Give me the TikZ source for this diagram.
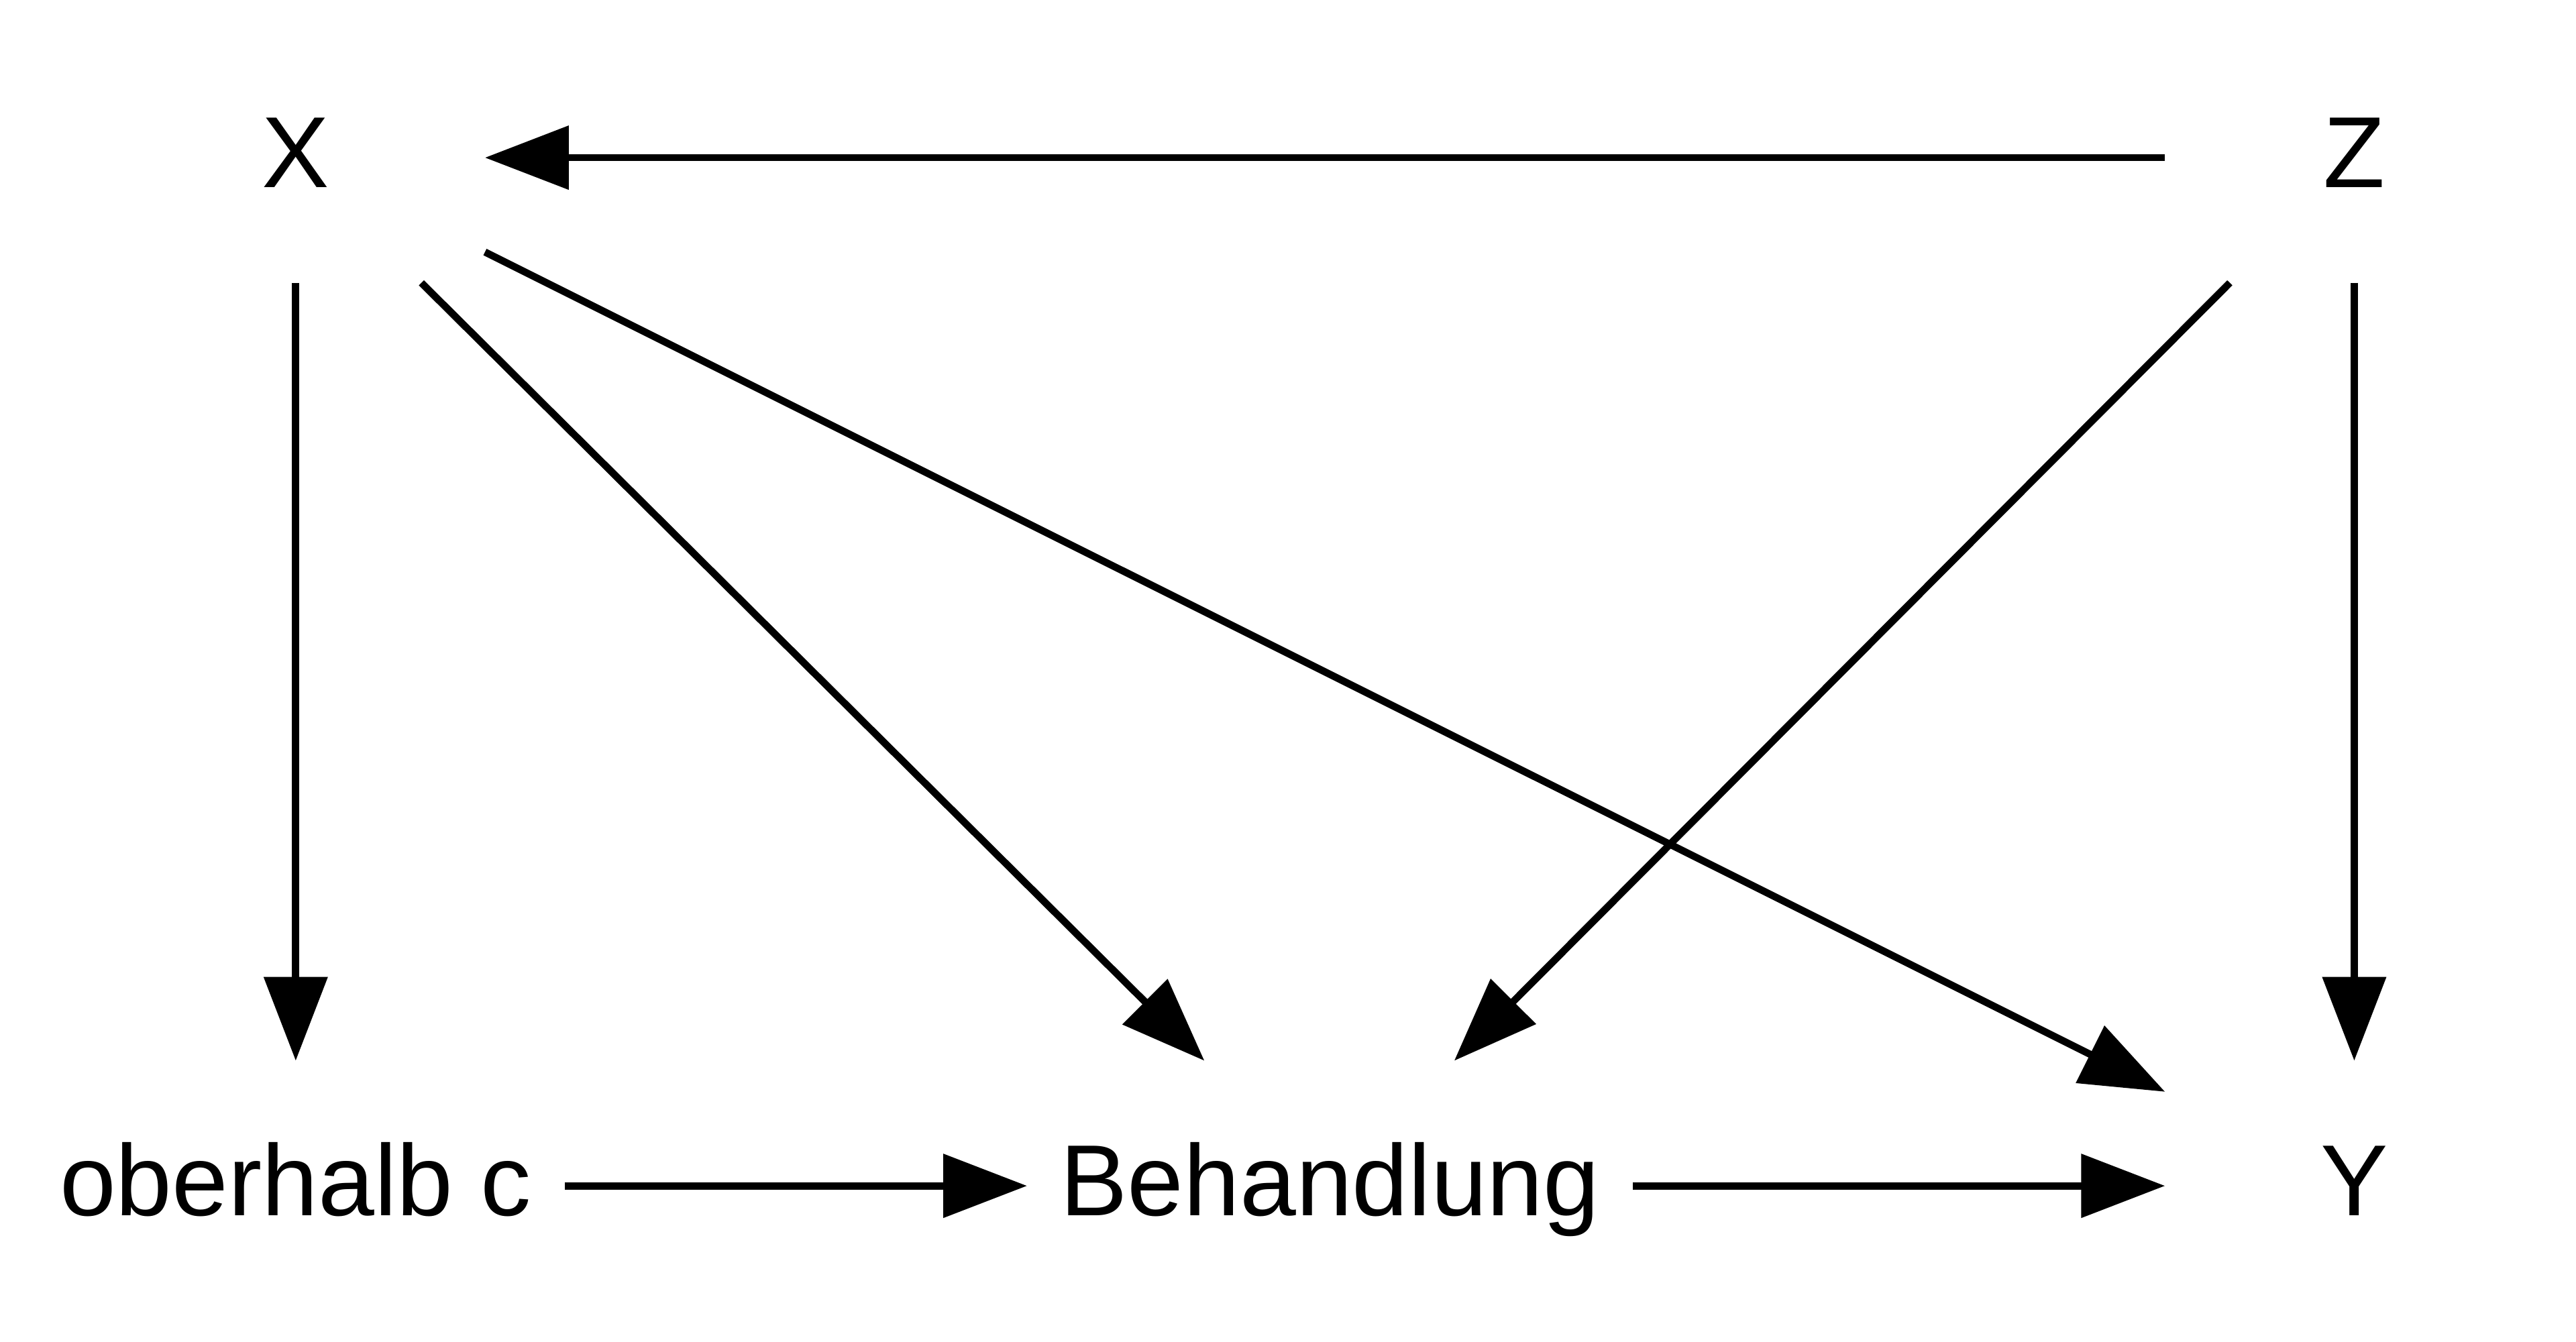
\documentclass[tikz,border=0pt]{standalone}
\usepackage{fontspec}
\setmainfont{Liberation Sans}
\usetikzlibrary{arrows.meta}

\begin{document}
\begin{tikzpicture}[line width=1.25pt,
    >={Triangle[length=0.51cm, width=0.38cm]},
    var/.style={minimum width=2.26cm, minimum height=1.48cm, inner xsep=0.18cm,
      text height=0.44cm, text depth=0.08cm, font=\fontsize{17.5}{20}\selectfont}]
  \useasboundingbox (0,0) rectangle (15.68,8.17);

  \node[var] (X)   at ( 1.80,7.21) {X};
  \node[var] (Z)   at (14.33,7.21) {Z};
  \node[var] (ob)  at ( 1.80,0.95) {oberhalb c};
  \node[var] (beh) at ( 8.095,0.95) {Behandlung};
  \node[var] (Y)   at (14.33,0.95) {Y};

  % Pfeile
  \draw[->] (Z) -- (X);
  \draw[->] (X) -- (ob);
  \draw[->] (X) -- (beh);
  \draw[->] (X) -- (Y);
  \draw[->] (Z) -- (beh);
  \draw[->] (Z) -- (Y);
  \draw[->] (ob) -- (beh);
  \draw[->] (beh) -- (Y);
\end{tikzpicture}
\end{document}
